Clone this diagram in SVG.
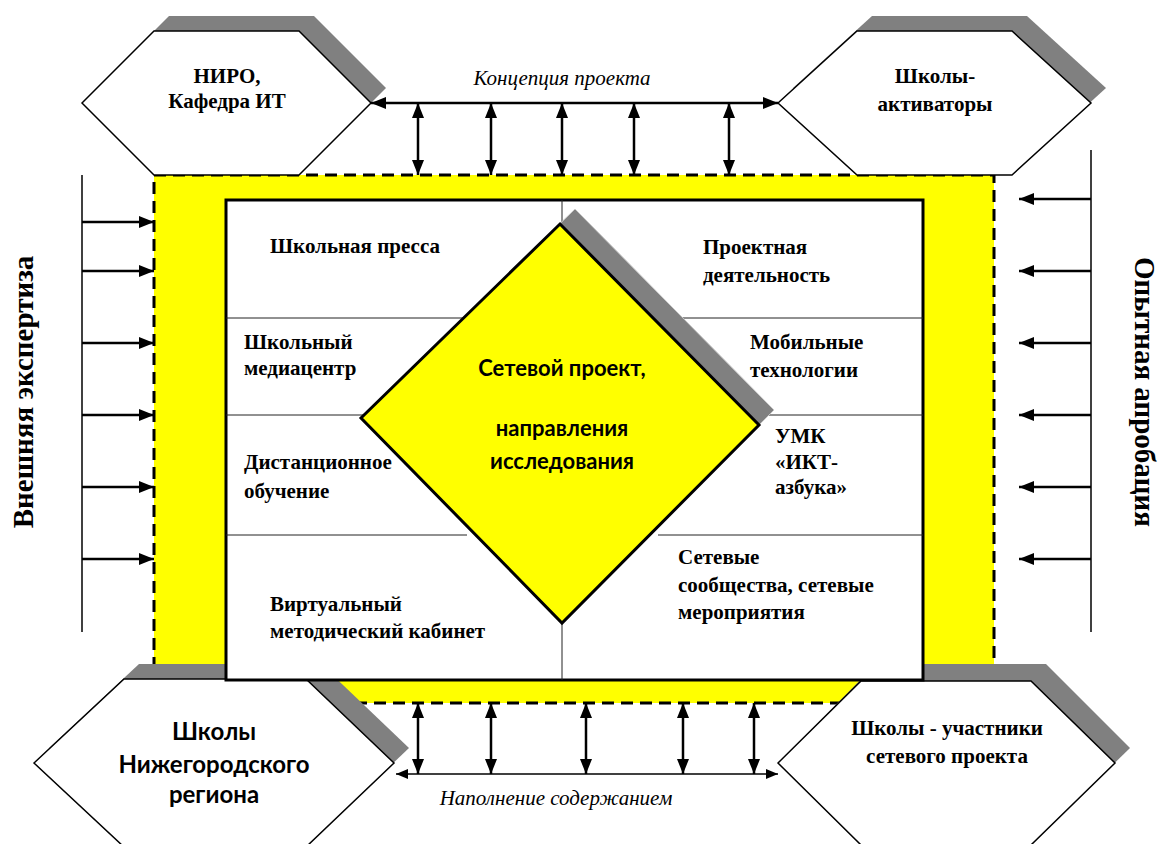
<svg xmlns="http://www.w3.org/2000/svg" width="1160" height="844" viewBox="0 0 1160 844">
<style>
.tb{font-family:'Liberation Serif','DejaVu Serif',serif;font-weight:bold;font-size:21px;fill:#000}
.hx{font-family:'Liberation Serif','DejaVu Serif',serif;font-weight:bold;font-size:21px;fill:#000;text-anchor:middle}
.it{font-family:'Liberation Serif','DejaVu Serif',serif;font-style:italic;font-size:21px;fill:#000;text-anchor:middle}
.cb{font-family:Lato,'Open Sans',sans-serif;font-weight:bold;fill:#000;text-anchor:middle}
.rot{font-family:'Liberation Serif','DejaVu Serif',serif;font-weight:bold;font-size:29px;fill:#000;text-anchor:middle}
.hex{fill:#fff;stroke:#000;stroke-width:1.5}
.sh{fill:#808080;stroke:none}
.grid{stroke:#222;stroke-width:1;fill:none}
.arr{stroke:#000;stroke-width:2.5;fill:none}
.thin{stroke:#000;stroke-width:1.5;fill:none}
</style>
<defs>
<marker id="ah" viewBox="0 0 15 12" refX="15" refY="6" markerWidth="15" markerHeight="12" markerUnits="userSpaceOnUse" orient="auto-start-reverse"><path d="M0,0 L15,6 L0,12 z" fill="#000"/></marker>
<marker id="as" viewBox="0 0 12 10" refX="12" refY="5" markerWidth="12" markerHeight="10" markerUnits="userSpaceOnUse" orient="auto-start-reverse"><path d="M0,0 L12,5 L0,10 z" fill="#000"/></marker>
</defs>
<rect width="1160" height="844" fill="#fff"/>

<g id="yellow-zone">
<rect x="154" y="175" width="840" height="528" fill="#ffff00" stroke="#000" stroke-width="3" stroke-dasharray="12 7"/>
</g>

<g id="node-niro">
<polygon class="sh" points="97,88 169,16 314,16 386,88 314,160 169,160"/>
<polygon class="hex" points="82,103 154,31 299,31 371,103 299,175 154,175"/>
<text class="hx" x="227" y="83">НИРО,</text>
<text class="hx" x="227" y="108">Кафедра ИТ</text>
</g>

<g id="node-activators">
<polygon class="sh" points="793,88 872,16 1027,16 1106,88 1027,160 872,160"/>
<polygon class="hex" points="778,103 857,31 1012,31 1091,103 1012,175 857,175"/>
<text class="hx" x="935" y="83">Школы-</text>
<text class="hx" x="935" y="111">активаторы</text>
</g>

<g id="node-nn-schools">
<polygon class="sh" points="49,748 139,664 321,664 409,748 321,832 139,832"/>
<polygon class="hex" points="34,763 124,679 306,679 394,763 306,847 124,847"/>
<text class="cb" x="214" y="740" font-size="24">Школы</text>
<text class="cb" x="214" y="773" font-size="24">Нижегородского</text>
<text class="cb" x="214" y="803" font-size="24">региона</text>
</g>

<g id="node-participants">
<polygon class="sh" points="793,748 876,664 1046,664 1130,748 1046,830 876,830"/>
<polygon class="hex" points="778,763 861,681 1031,681 1115,763 1031,845 861,845"/>
<text class="hx" x="947" y="735">Школы - участники</text>
<text class="hx" x="947" y="763">сетевого проекта</text>
</g>

<g id="node-directions">
<rect x="226" y="200" width="697" height="480" fill="#fff" stroke="#000" stroke-width="3"/>
<line class="grid" x1="562" y1="200" x2="562" y2="680"/>
<line class="grid" x1="226" y1="318" x2="923" y2="318"/>
<line class="grid" x1="226" y1="415" x2="923" y2="415"/>
<line class="grid" x1="226" y1="535" x2="467" y2="535"/>
<line class="grid" x1="658" y1="535" x2="923" y2="535"/>
<text class="tb" x="270" y="253">Школьная пресса</text>
<text class="tb" x="703" y="254">Проектная</text>
<text class="tb" x="703" y="282">деятельность</text>
<text class="tb" x="244" y="349">Школьный</text>
<text class="tb" x="244" y="375">медиацентр</text>
<text class="tb" x="750" y="349">Мобильные</text>
<text class="tb" x="750" y="377">технологии</text>
<text class="tb" x="244" y="469">Дистанционное</text>
<text class="tb" x="244" y="498">обучение</text>
<text class="tb" x="775" y="443">УМК</text>
<text class="tb" x="775" y="469">«ИКТ-</text>
<text class="tb" x="775" y="494">азбука»</text>
<text class="tb" x="678" y="564">Сетевые</text>
<text class="tb" x="678" y="592">сообщества, сетевые</text>
<text class="tb" x="678" y="619">мероприятия</text>
<text class="tb" x="270" y="611">Виртуальный</text>
<text class="tb" x="270" y="638">методический кабинет</text>
</g>

<g id="node-network-project">
<polygon points="575,209 774,410 577,608 376,403" fill="#808080" stroke="#c8c8c8" stroke-width="1"/>
<polygon points="560,224 759,425 562,623 361,418" fill="#ffff00" stroke="#000" stroke-width="3" stroke-linejoin="miter"/>
<text class="cb" x="562" y="376" font-size="22">Сетевой проект,</text>
<text class="cb" x="562" y="436" font-size="22">направления</text>
<text class="cb" x="562" y="469" font-size="22">исследования</text>
</g>

<g id="label-external">
<text class="rot" transform="translate(33,392) rotate(-90)">Внешняя экспертиза</text>
</g>
<g id="label-approbation">
<text class="rot" transform="translate(1135,392) rotate(90)">Опытная апробация</text>
</g>

<g id="connectors">
<line class="arr" x1="371" y1="103" x2="778" y2="103" marker-start="url(#ah)" marker-end="url(#ah)"/>
<text class="it" x="562" y="85">Концепция проекта</text>
<line class="arr" x1="418" y1="103" x2="418" y2="175" marker-start="url(#ah)" marker-end="url(#ah)"/>
<line class="arr" x1="491" y1="103" x2="491" y2="175" marker-start="url(#ah)" marker-end="url(#ah)"/>
<line class="arr" x1="562" y1="103" x2="562" y2="175" marker-start="url(#ah)" marker-end="url(#ah)"/>
<line class="arr" x1="634" y1="103" x2="634" y2="175" marker-start="url(#ah)" marker-end="url(#ah)"/>
<line class="arr" x1="729" y1="103" x2="729" y2="175" marker-start="url(#ah)" marker-end="url(#ah)"/>

<line class="thin" x1="396" y1="774" x2="778" y2="774" marker-start="url(#as)" marker-end="url(#as)"/>
<text class="it" x="556" y="805">Наполнение содержанием</text>
<line class="arr" x1="418" y1="703" x2="418" y2="774" marker-start="url(#ah)" marker-end="url(#ah)"/>
<line class="arr" x1="491" y1="703" x2="491" y2="774" marker-start="url(#ah)" marker-end="url(#ah)"/>
<line class="arr" x1="586" y1="703" x2="586" y2="774" marker-start="url(#ah)" marker-end="url(#ah)"/>
<line class="arr" x1="683" y1="703" x2="683" y2="774" marker-start="url(#ah)" marker-end="url(#ah)"/>
<line class="arr" x1="754" y1="703" x2="754" y2="774" marker-start="url(#ah)" marker-end="url(#ah)"/>

<line class="thin" x1="82" y1="175" x2="82" y2="632"/>
<line class="arr" x1="82" y1="222" x2="154" y2="222" marker-end="url(#ah)"/>
<line class="arr" x1="82" y1="271" x2="154" y2="271" marker-end="url(#ah)"/>
<line class="arr" x1="82" y1="343" x2="154" y2="343" marker-end="url(#ah)"/>
<line class="arr" x1="82" y1="415" x2="154" y2="415" marker-end="url(#ah)"/>
<line class="arr" x1="82" y1="487" x2="154" y2="487" marker-end="url(#ah)"/>
<line class="arr" x1="82" y1="559" x2="154" y2="559" marker-end="url(#ah)"/>

<line class="thin" x1="1091" y1="150" x2="1091" y2="632"/>
<line class="arr" x1="1091" y1="199" x2="1019" y2="199" marker-end="url(#ah)"/>
<line class="arr" x1="1091" y1="271" x2="1019" y2="271" marker-end="url(#ah)"/>
<line class="arr" x1="1091" y1="343" x2="1019" y2="343" marker-end="url(#ah)"/>
<line class="arr" x1="1091" y1="415" x2="1019" y2="415" marker-end="url(#ah)"/>
<line class="arr" x1="1091" y1="487" x2="1019" y2="487" marker-end="url(#ah)"/>
<line class="arr" x1="1091" y1="559" x2="1019" y2="559" marker-end="url(#ah)"/>
</g>
</svg>
